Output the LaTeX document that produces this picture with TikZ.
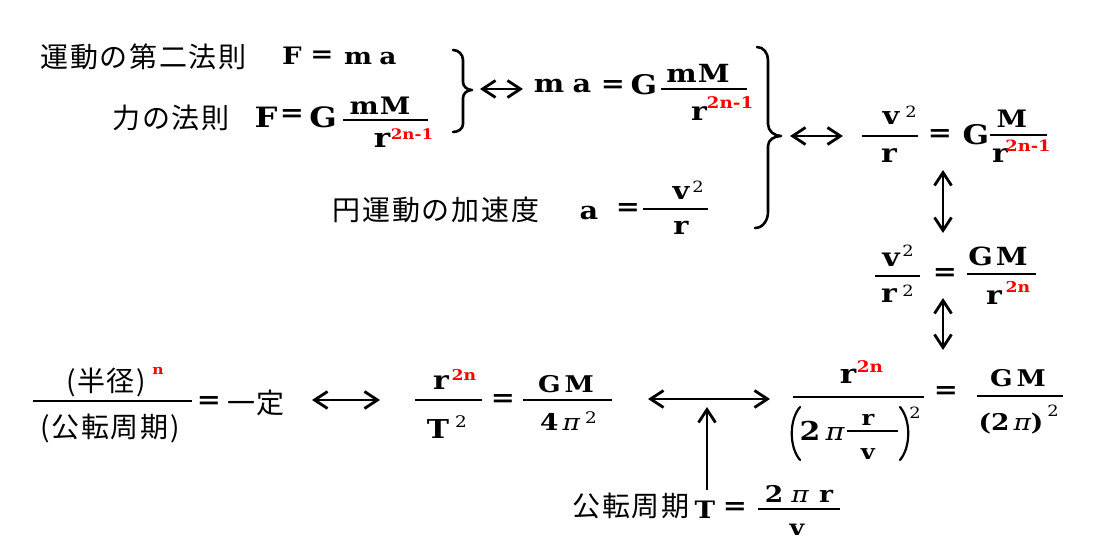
\documentclass[tikz,border=0pt]{standalone}
\usepackage{fontspec}
\setmainfont{DejaVu Serif}[FakeStretch=1.15]
\newfontfamily\jp{Noto Sans CJK JP}[LetterSpace=6]
\usetikzlibrary{arrows.meta}
\definecolor{supred}{RGB}{255,0,0}
\newcommand\ppi{{\mdseries\itshape π}}
\tikzset{
 lat/.style={inner sep=0pt, anchor=base, font=\bfseries\fontsize{#1}{#1}\selectfont},
 lat/.default=24,
 eqs/.style={inner sep=0pt, anchor=center, font=\bfseries\fontsize{#1}{#1}\selectfont},
 eqs/.default=25,
 jt/.style={inner sep=0pt, anchor=center, font=\jp\fontsize{28}{32}\selectfont},
 rsup/.style={inner sep=0pt, anchor=base, text=supred, font=\bfseries\fontsize{#1}{#1}\selectfont},
 rsup/.default=15,
 bsup/.style={inner sep=0pt, anchor=base, font=\fontsize{#1}{#1}\selectfont},
 bsup/.default=15.5,
 fbar/.style={line width=1.8pt},
 brace/.style={line width=2.6pt, line cap=round, line join=round},
 paren/.style={line width=2.2pt, line cap=round},
 dbl/.style={line width=2.8pt, <->},
 sgl/.style={line width=2.8pt, ->},
}
\begin{document}
\begin{tikzpicture}[x=1pt,y=-1pt,>={Straight Barb[length=13pt,width=17pt]}]
\fill[white] (0,0) rectangle (1096,556);
\useasboundingbox (0,0) rectangle (1096,556);

% ---- Row 1
\node[jt] (j1) at (143.5,56.5) {運動の第二法則};
\node[lat=24] (f1) at (292,65) {F};
\node[eqs=24] (e1) at (322,57) {=};
\node[lat=23] (m1) at (358,65) {m};
\node[lat=23] (a1) at (388,65) {a};

% ---- Row 2
\node[jt] (j2) at (171,117.5) {力の法則};
\node[lat=28] (f2) at (266,128) {F};
\node[eqs] (e2) at (292,116) {=};
\node[lat=28] (g2) at (323,128) {G};
\draw[fbar] (343,120) -- (428,120);
\node[lat=24] (n2) at (380,115) {m\hspace{1pt}M};
\node[lat=27] (d2) at (382,148) {r};
\node[rsup=14.5] (s2) at (412,140) {2n-1};

% ---- brace 1
\draw[brace] (453,50) to[out=0,in=90] (463,60) -- (463,82) to[out=-90,in=180] (472,90)
  to[out=180,in=90] (463,98) -- (463,124) to[out=-90,in=0] (453,132);

\coordinate (a1s) at (480,89);
\coordinate (a1e) at (523,89);
\draw[dbl] (a1s) -- (a1e);

% ---- ma = G mM / r^{2n-1}
\node[lat=25] (m3) at (549,93) {m};
\node[lat=25] (a3) at (582,93) {a};
\node[eqs] (e3) at (613,87) {=};
\node[lat=27] (g3) at (644,95) {G};
\draw[fbar] (661,89) -- (747,89);
\node[lat=25] (n3) at (698,83) {m\hspace{1pt}M};
\node[lat=26] (d3) at (699,121) {r};
\node[rsup=16] (s3) at (730,109) {2n-1};

% ---- Row 3
\node[jt] (j3) at (436,210) {円運動の加速度};
\node[lat=25] (a4) at (589,220) {a};
\node[eqs] (e4) at (628,210) {=};
\draw[fbar] (643,209) -- (708,209);
\node[lat=25] (v4) at (681,200) {v};
\node[bsup] (q4) at (698,193) {2};
\node[lat=25] (r4) at (681,235) {r};

% ---- brace 2
\draw[brace] (757,47) to[out=0,in=90] (768,60) -- (768,124) to[out=-90,in=180] (781,136)
  to[out=180,in=90] (768,146) -- (768,212) to[out=-90,in=0] (755,228);

\coordinate (a2s) at (790,136);
\coordinate (a2e) at (843,136);
\draw[dbl] (a2s) -- (a2e);

% ---- v^2/r = G M/r^{2n-1}
\draw[fbar] (862,136) -- (918,136);
\node[lat=25] (v5) at (891,125) {v};
\node[bsup] (q5) at (911,118) {2};
\node[lat=26] (r5) at (889,163) {r};
\node[eqs] (e5) at (940,136) {=};
\node[lat=27] (g5) at (976,145) {G};
\draw[fbar] (990,135) -- (1047,135);
\node[lat=24] (n5) at (1012,128) {M};
\node[lat=26] (d5) at (1000,163) {r};
\node[rsup=15.5] (s5) at (1028,152) {2n-1};

\coordinate (v1s) at (943,170);
\coordinate (v1e) at (943,233);
\draw[dbl] (v1s) -- (v1e);

% ---- v^2/r^2 = GM/r^{2n}
\draw[fbar] (875,276) -- (920,276);
\node[lat=26] (v6) at (891,267) {v};
\node[bsup] (q6) at (908,257) {2};
\node[lat=26] (r6) at (889,303) {r};
\node[bsup] (p6) at (908,297) {2};
\node[eqs] (e6) at (945,275) {=};
\draw[fbar] (967,274) -- (1036,274);
\node[lat=25] (n6) at (998,266) {G\hspace{3pt}M};
\node[lat=26] (d6) at (994,305) {r};
\node[rsup] (s6) at (1018,293) {2n};

\coordinate (v2s) at (943,298);
\coordinate (v2e) at (943,350);
\draw[dbl] (v2s) -- (v2e);

% ---- bottom left
\node[jt] (j7) at (106,382) {(半径)};
\node[rsup=13.5] (s7) at (158,374) {n};
\draw[fbar] (33,401) -- (192,401);
\node[jt] (k7) at (110,428) {(公転周期)};
\node[eqs] (e7) at (209,402) {=};
\node[jt] (c7) at (256,403) {一定};

\coordinate (a3s) at (312,400);
\coordinate (a3e) at (380,400);
\draw[dbl] (a3s) -- (a3e);

% ---- r^{2n}/T^2 = GM/4pi^2
\draw[fbar] (415,400) -- (482,400);
\node[lat=26] (r8) at (441,389) {r};
\node[rsup] (s8) at (464,380) {2n};
\node[lat=26] (t8) at (438,438) {T};
\node[bsup=16] (q8) at (461,427) {2};
\node[eqs] (e8) at (503,400) {=};
\draw[fbar] (523,400) -- (612,400);
\node[lat=23] (n8) at (566,392) {G\hspace{4pt}M};
\node[lat=23] (d8) at (560,430) {4\hspace{4pt}\ppi};
\node[bsup=16] (p8) at (591,423) {2};

\coordinate (a4s) at (648,399);
\coordinate (a4e) at (770,399);
\draw[dbl] (a4s) -- (a4e);

% ---- r^{2n}/(2pi r/v)^2 = GM/(2pi)^2
\draw[fbar] (793,397) -- (924,397);
\node[lat=27] (r9) at (848,383) {r};
\node[rsup=16] (s9) at (870,373) {2n};
\draw[paren] (800,407) .. controls (789,420) and (789,447) .. (800,460);
\draw[paren] (900,407) .. controls (911,420) and (911,447) .. (900,460);
\node[lat=26] (t9) at (810,440) {2};
\node[lat=25] (p9) at (835,440) {\ppi};
\draw[fbar] (847,431) -- (898,431);
\node[lat=21] (u9) at (868,425) {r};
\node[lat=21] (w9) at (868,459) {v};
\node[bsup] (q9) at (915,418) {2};
\node[eqs] (e9) at (946,393) {=};
\draw[fbar] (977,396) -- (1063,396);
\node[lat=23] (n9) at (1018,386) {G\hspace{4pt}M};
\node[lat=23] (d9) at (1011,430) {(2\hspace{4pt}\ppi)};
\node[bsup] (x9) at (1053,416) {2};

% ---- bottom: period
\node[jt] (j10) at (631,506) {公転周期};
\node[lat=24] (t10) at (705,518) {T};
\node[eqs] (e10) at (735,508) {=};
\draw[fbar] (758,509) -- (840,509);
\node[lat=23] (n10a) at (774,502) {2};
\node[lat=23] (n10b) at (800,502) {\ppi};
\node[lat=23] (n10c) at (826,502) {r};
\node[lat=22] (d10) at (797,535) {v};

\coordinate (v3s) at (707,490);
\coordinate (v3e) at (707,407);
\draw[sgl] (v3s) -- (v3e);
\end{tikzpicture}
\end{document}
